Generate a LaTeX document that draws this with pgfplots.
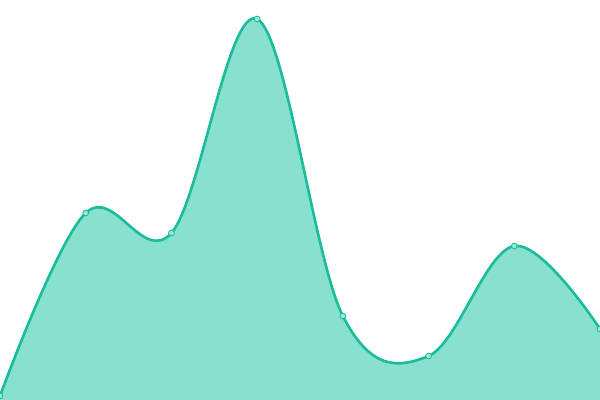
\documentclass[border=0pt]{standalone}
\usepackage{pgfplots}
\pgfplotsset{compat=1.18}
\definecolor{lineC}{HTML}{1ABC9C}
\definecolor{fillC}{HTML}{88E0CE}
\begin{document}
\begin{tikzpicture}
\begin{axis}[
  width=6in, height=4in, scale only axis,
  hide axis, clip=true, clip marker paths=true,
  xmin=0, xmax=7, ymin=0, ymax=400,
  xtick=\empty, ytick=\empty,
]
\addplot[draw=none, fill=fillC, smooth, tension=0.6] coordinates {
(0,4) (1,187) (2,167) (3,381) (4,84) (5,44) (6,154) (7,71)
} \closedcycle;
\addplot[lineC, line width=1.9pt, smooth, tension=0.6,
  mark=*, mark size=2.1pt, mark options={fill=fillC!80!white, draw=lineC, line width=0.6pt}] coordinates {
(0,4) (1,187) (2,167) (3,381) (4,84) (5,44) (6,154) (7,71)
};
\end{axis}
\pgfresetboundingbox
\useasboundingbox (current axis.south west) rectangle (current axis.north east);
\end{tikzpicture}
\end{document}
